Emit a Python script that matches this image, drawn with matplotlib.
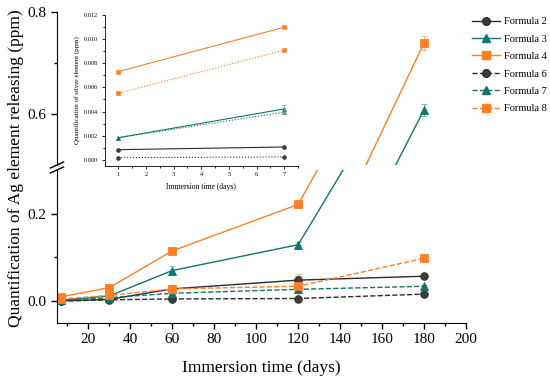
import numpy as np
import matplotlib
matplotlib.use("Agg")
import matplotlib.pyplot as plt
from matplotlib.lines import Line2D

plt.rcParams['font.family'] = ['Liberation Serif', 'DejaVu Serif']

# main data (days vs ppm)
days = [7, 30, 60, 120, 180]
f2 = [0.001, 0.004, 0.028, 0.048, 0.057]
f3 = [0.002, 0.012, 0.070, 0.129, 0.608]
f4 = [0.010, 0.031, 0.115, 0.221, 0.739]
f6 = [0.000, 0.003, 0.005, 0.006, 0.016]
f7 = [0.002, 0.008, 0.018, 0.027, 0.034]
f8 = [0.005, 0.013, 0.028, 0.034, 0.098]
f2_err = [0.001, 0.002, 0.004, 0.010, 0.003]
f3_err = [0.001, 0.003, 0.010, 0.006, 0.012]
f4_err = [0.002, 0.003, 0.004, 0.004, 0.014]
f6_err = [0.001, 0.001, 0.002, 0.003, 0.002]
f7_err = [0.001, 0.002, 0.003, 0.004, 0.003]
f8_err = [0.001, 0.002, 0.004, 0.027, 0.003]

# inset data
days_in = [1, 7]
f2_in = [0.00085, 0.00107]
f3_in = [0.00184, 0.00422]
f4_in = [0.0073, 0.01097]
f6_in = [0.00019, 0.00025]
f7_in = [0.00184, 0.00395]
f8_in = [0.00551, 0.00908]

BLACK = "#2b2b2b"
GRAY = "#3c3c3c"
TEAL = "#11746f"
ORANGE = "#ff7f27"
ELIGHT = {BLACK: "#777777", TEAL: "#6fb3ad", ORANGE: "#f7b07a"}

series = [
    ("Formula 2", f2, f2_err, f2_in, BLACK, "o", "-"),
    ("Formula 3", f3, f3_err, f3_in, TEAL, "^", "-"),
    ("Formula 4", f4, f4_err, f4_in, ORANGE, "s", "-"),
    ("Formula 6", f6, f6_err, f6_in, BLACK, "o", "--"),
    ("Formula 7", f7, f7_err, f7_in, TEAL, "^", "--"),
    ("Formula 8", f8, f8_err, f8_in, ORANGE, "s", "--"),
]

fig = plt.figure(figsize=(5.5, 3.78), dpi=100)
L, W = 0.1036, 0.7436
ax_top = fig.add_axes([L, 0.5635, W, 0.405])
ax_bot = fig.add_axes([L, 0.1455, W, 0.405])

handles = []
for ax in (ax_top, ax_bot):
    for name, y, e, _, c, m, ls in series:
        fc = GRAY if c == BLACK else c
        ax.errorbar(days, y, yerr=e, color=c, ecolor=ELIGHT[c], elinewidth=0.8,
                    capsize=2.5, capthick=0.8, marker=m, markersize=5.5,
                    markerfacecolor=fc, markeredgecolor=c, markeredgewidth=0.6,
                    linestyle=ls, linewidth=1.0)
for name, _, _, _, c, m, ls in series:
    fc = GRAY if c == BLACK else c
    handles.append(Line2D([], [], color=c, marker=m, markersize=5.5, markerfacecolor=fc,
                          markeredgecolor=c, linestyle=ls, linewidth=1.0, label=name))

ax_top.set_ylim(0.5, 0.8)
ax_bot.set_ylim(-0.05, 0.3)
for ax in (ax_top, ax_bot):
    ax.set_xlim(5, 200)
    ax.spines['top'].set_visible(False)
    ax.spines['right'].set_visible(False)
    ax.tick_params(direction='out', labelsize=11, width=1.0, length=4)
    ax.tick_params(which='minor', direction='out', width=1.0, length=2.5)
    ax.patch.set_alpha(0)

ax_top.spines['bottom'].set_visible(False)
ax_top.tick_params(axis='x', which='both', bottom=False, labelbottom=False)
ax_top.set_yticks([0.6, 0.8])
ax_top.set_yticks([0.7], minor=True)
ax_top.set_yticklabels(["0.6", "0.8"])

ax_bot.set_xticks(np.arange(20, 201, 20))
ax_bot.set_xticks(np.arange(10, 200, 20), minor=True)
ax_bot.set_yticks([0.0, 0.2])
ax_bot.set_yticks([0.1], minor=True)
ax_bot.set_yticklabels(["0.0", "0.2"])
ax_bot.set_xlabel("Immersion time (days)", fontsize=12.5, labelpad=10)
fig.text(0.03, 0.555, "Quantification of Ag element releasing (ppm)", rotation=90,
         fontsize=12.5, ha='center', va='center')

# break marks
for yy in (0.5635, 0.5503):
    fig.add_artist(Line2D([L - 0.012, L + 0.012], [yy - 0.008, yy + 0.008],
                          color='black', lw=1.0, transform=fig.transFigure))

# inset
ax_in = fig.add_axes([0.19, 0.5608, 0.352, 0.4003])
for name, _, _, yi, c, m, ls in series:
    fc = GRAY if c == BLACK else c
    ax_in.plot(days_in, yi, color=c, marker=m, markersize=2.8, markerfacecolor=fc,
               markeredgewidth=0.4, linestyle='-' if ls == '-' else ':', linewidth=0.8)
ax_in.errorbar([7], [f3_in[1]], yerr=[0.0003], color=ELIGHT[TEAL], capsize=1.5,
               elinewidth=0.5, capthick=0.5, fmt='none')
ax_in.set_xlim(0.5, 7.5)
ax_in.set_ylim(-0.0005, 0.012)
ax_in.set_xticks(range(1, 8))
ax_in.set_xticks(np.arange(1.5, 7.6, 1), minor=True)
ax_in.set_yticks(np.arange(0, 0.0121, 0.002))
ax_in.set_yticks(np.arange(0.001, 0.012, 0.002), minor=True)
ax_in.set_yticklabels([f"{v:.3f}" for v in np.arange(0, 0.0121, 0.002)])
ax_in.spines['top'].set_visible(False)
ax_in.spines['right'].set_visible(False)
for s in ('left', 'bottom'):
    ax_in.spines[s].set_linewidth(0.6)
ax_in.tick_params(direction='out', labelsize=4.5, width=0.6, length=2.5, pad=2)
ax_in.tick_params(which='minor', direction='out', width=0.6, length=1.5)
ax_in.set_xlabel("Immersion time (days)", fontsize=5.5, labelpad=4)
ax_in.set_ylabel("Quantification of silver element (ppm)", fontsize=5, labelpad=3)
ax_in.patch.set_alpha(0)

# legend
fig.legend(handles=handles, loc='upper left', bbox_to_anchor=(0.858, 0.955),
           frameon=False, fontsize=7.5, handlelength=2.7, labelspacing=0.78,
           handletextpad=0.4, borderaxespad=0, borderpad=0)

fig.savefig("out.png", dpi=100)
